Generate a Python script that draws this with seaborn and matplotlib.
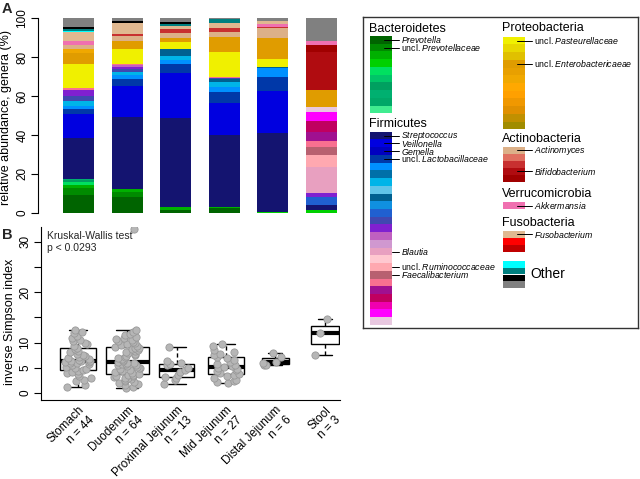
import numpy as np
import pandas as pd
import matplotlib
matplotlib.use('Agg')
import matplotlib.pyplot as plt
import seaborn as sns

sns.set_theme(style='ticks')
plt.rcParams['font.family'] = ['Liberation Sans', 'DejaVu Sans']
plt.rcParams['mathtext.fontset'] = 'custom'
plt.rcParams['mathtext.rm'] = 'Liberation Sans'
plt.rcParams['mathtext.it'] = 'Liberation Sans:italic'

# ---------------- data ----------------
groups = ['Stomach', 'Duodenum', 'Proximal Jejunum', 'Mid Jejunum', 'Distal Jejunum', 'Stool']
n_samples = [44, 64, 13, 27, 6, 3]

bacteroidetes_colors = ['#006400', '#008a00', '#00b000', '#00d000', '#00e060', '#00c468',
                        '#00a060', '#00b070', '#00a868', '#40ec90']
firmicutes_colors = ['#141470', '#0000e0', '#0000c0', '#0038a8', '#0090ff', '#0070a8', '#00b4e8',
                     '#60c4e8', '#006090', '#1090e0', '#2060d0', '#4048b0', '#8020d0', '#c060c0',
                     '#d098d0', '#e8a0c0', '#ffc8d0', '#ffa8b0', '#b86070', '#f87090', '#a01090',
                     '#c00060', '#f000b0', '#ff00ff', '#e8c8e0']
proteobacteria_colors = ['#f0f000', '#e8d800', '#e0c000', '#e09c00', '#e8a000', '#f0a800',
                         '#ffa800', '#ffa000', '#f09800', '#e09000', '#c09000', '#a08c00']
actinobacteria_colors = ['#dcb088', '#e07060', '#c83030', '#b00c10', '#a00000']
verrucomicrobia_colors = ['#f070b0']
fusobacteria_colors = ['#e0b890', '#ff0000', '#c00000']
other_colors = ['#00ffff', '#008080', '#000000', '#808080']

phyla = [('B', bacteroidetes_colors), ('F', firmicutes_colors), ('P', proteobacteria_colors),
         ('A', actinobacteria_colors), ('V', verrucomicrobia_colors), ('U', fusobacteria_colors),
         ('O', other_colors)]

# relative abundances (%) per site, keyed by legend entry (bottom -> top)
stomach = {'B0': 9.0, 'B1': 3.7, 'B2': 1.7, 'B4': 1.2, 'B6': 1.0, 'B7': 0.9,
           'F0': 21.1, 'F1': 12.2, 'F3': 2.5, 'F4': 1.7, 'F6': 2.3, 'F11': 2.9, 'F12': 2.9, 'F19': 1.0,
           'P0': 12.4, 'P3': 5.5, 'P5': 2.2, 'A0': 2.2, 'V0': 2.1, 'U0': 4.3,
           'O0': 0.8, 'O1': 0.8, 'O2': 1.0, 'O3': 4.6}
duodenum = {'B0': 8.1, 'B1': 2.5, 'B2': 1.7,
            'F0': 36.9, 'F1': 16.1, 'F3': 3.5, 'F4': 2.0, 'F6': 1.4, 'F11': 1.7, 'F12': 1.2,
            'F13': 0.7, 'F19': 0.7, 'P0': 7.7, 'P3': 4.3, 'A0': 2.4, 'A2': 1.0, 'U0': 5.5,
            'O1': 0.3, 'O2': 0.7, 'O3': 1.6}
prox_jejunum = {'B0': 1.4, 'B2': 1.3,
                'F0': 46.2, 'F1': 22.8, 'F3': 4.8, 'F4': 2.0, 'F6': 2.1, 'F8': 3.4,
                'P0': 3.6, 'P3': 2.1, 'A0': 2.9, 'A2': 1.7, 'U0': 1.7,
                'O1': 1.1, 'O2': 1.2, 'O3': 1.7}
mid_jejunum = {'B0': 2.3, 'B2': 0.8,
               'F0': 36.9, 'F1': 16.3, 'F3': 5.9, 'F4': 2.6, 'F6': 2.6, 'F8': 1.5, 'F11': 0.6, 'F19': 0.5,
               'P0': 12.5, 'P3': 8.0, 'A0': 2.6, 'A2': 1.8, 'U0': 2.5, 'O1': 2.0, 'O3': 0.6}
distal_jejunum = {'B3': 0.5,
                  'F0': 40.7, 'F1': 21.6, 'F3': 7.2, 'F4': 4.3, 'F8': 0.6,
                  'P0': 4.0, 'P3': 10.8, 'A0': 5.2, 'A2': 0.6, 'V0': 1.5, 'U0': 1.6, 'O3': 1.4}
stool = {'B3': 1.4,
         'F0': 2.6, 'F10': 3.9, 'F12': 2.4, 'F15': 13.4, 'F17': 6.0, 'F18': 4.2, 'F19': 3.1,
         'F20': 4.7, 'F21': 5.6, 'F23': 4.6, 'F24': 2.6,
         'P3': 8.6, 'A3': 19.5, 'A4': 3.7, 'V0': 2.2, 'O3': 11.5}
abundances = [stomach, duodenum, prox_jejunum, mid_jejunum, distal_jejunum, stool]

# inverse Simpson index per sample
isi_stomach = [1.1, 1.5, 2.3, 2.6, 3.0, 3.4, 3.8, 4.0, 4.2, 4.4, 4.5,
               4.7, 5.0, 5.2, 5.5, 5.7, 5.9, 6.0, 6.1, 6.2, 6.3, 6.3,
               6.4, 6.6, 6.8, 7.0, 7.2, 7.4, 7.6, 7.8, 8.1, 8.4, 8.8,
               9.0, 9.3, 9.7, 10.0, 10.3, 10.6, 11.0, 11.3, 12.0, 12.2, 12.5]
isi_duodenum = [0.9, 1.2, 1.5, 1.8, 2.0, 2.2, 2.4, 2.6, 2.8, 2.9, 3.0, 3.1, 3.3, 3.4, 3.5, 3.6,
                3.8, 4.0, 4.2, 4.4, 4.6, 4.8, 4.9, 5.0, 5.2, 5.3, 5.5, 5.6, 5.7, 5.8, 5.9, 6.0,
                6.2, 6.4, 6.6, 6.8, 7.0, 7.2, 7.4, 7.6, 7.8, 8.0, 8.2, 8.4, 8.6, 8.8, 8.9, 9.0,
                9.2, 9.4, 9.6, 9.8, 10.0, 10.2, 10.4, 10.6, 10.8, 11.0, 11.2, 11.5, 11.8, 12.2, 12.5, 32.5]
isi_prox = [1.8, 2.5, 3.0, 3.2, 3.5, 4.2, 4.6, 5.0, 5.5, 5.7, 6.0, 6.3, 9.2]
isi_mid = [1.9, 2.1, 2.3, 2.6, 3.0, 3.4, 3.6, 3.8, 4.0, 4.3, 4.6, 4.8, 5.0, 5.2, 5.3, 5.5, 5.8,
           6.2, 6.6, 7.0, 7.2, 7.5, 7.8, 8.1, 8.6, 9.4, 9.8]
isi_distal = [5.5, 5.6, 6.0, 6.2, 7.2, 8.0]
isi_stool = [7.6, 12.0, 14.6]
isi_values = [isi_stomach, isi_duodenum, isi_prox, isi_mid, isi_distal, isi_stool]

# ---------------- figure ----------------
W, H = 640, 479
fig = plt.figure(figsize=(6.4, 4.79), dpi=100)


def box(l, t, r, b):
    return [l / W, 1 - b / H, (r - l) / W, (b - t) / H]


# ---- Panel A: stacked bars ----
axA = fig.add_axes(box(38, 18.3, 345, 212.7))
xpos = np.arange(len(groups))
bottoms = np.zeros(len(groups))
for prefix, cols in phyla:
    for i, c in enumerate(cols):
        key = f'{prefix}{i}'
        vals = np.array([d.get(key, 0.0) for d in abundances])
        if vals.sum() == 0:
            continue
        axA.bar(xpos, vals, bottom=bottoms, width=0.64, color=c, linewidth=0)
        bottoms += vals
axA.set_xlim(-0.833, 5.484)
axA.set_ylim(0, 100)
axA.set_yticks([0, 20, 40, 60, 80, 100])
axA.set_xticks([])
for s in ['top', 'right', 'bottom']:
    axA.spines[s].set_visible(False)
axA.spines['left'].set_color('black')
axA.spines['left'].set_linewidth(0.8)
axA.tick_params(axis='y', direction='out', length=5, width=0.8, colors='black',
                labelsize=8.5, labelrotation=90, pad=2)
for lab in axA.get_yticklabels():
    lab.set_va('center')
axA.set_ylabel('relative abundance, genera (%)', fontsize=9, color='black')
axA.yaxis.set_label_coords(-0.085, 0.49)

# ---- Panel B: boxplot ----
axB = fig.add_axes(box(41, 227, 340, 400))
df = pd.DataFrame({'site': [g for g, v in zip(groups, isi_values) for _ in v],
                   'isi': [x for v in isi_values for x in v]})
box_widths = [0.72, 0.88, 0.72, 0.72, 0.56, 0.56]
for g, bw in zip(groups, box_widths):
    sns.boxplot(data=df[df['site'] == g], x='site', y='isi', order=groups, ax=axB, width=bw,
                color='white', linecolor='black', linewidth=1.0, showfliers=False,
                boxprops={'facecolor': 'white', 'edgecolor': 'black'},
                whiskerprops={'linestyle': (0, (3, 2)), 'color': 'black'},
                capprops={'color': 'black'},
                medianprops={'linewidth': 3, 'color': 'black'})
np.random.seed(7)
sns.stripplot(data=df, x='site', y='isi', order=groups, ax=axB, jitter=0.27, size=5.2,
              color='#b6b6b6', edgecolor='#999999', linewidth=0.6, zorder=3)
axB.set_xlim(-0.75, 5.31)
axB.set_ylim(-1.39, 32.94)
axB.set_yticks([0, 5, 10, 15, 20, 25, 30])
axB.set_yticklabels(['0', '5', '10', '', '20', '', '30'])
axB.tick_params(axis='y', direction='out', length=5, width=0.8, colors='black',
                labelsize=8.5, labelrotation=90, pad=2)
for lab in axB.get_yticklabels():
    lab.set_va('center')
axB.set_xticks(range(len(groups)))
axB.set_xticklabels([f'{g}\nn = {n}' for g, n in zip(groups, n_samples)],
                    rotation=45, ha='right', va='top', rotation_mode='anchor', fontsize=8.5)
axB.tick_params(axis='x', length=0, pad=3, colors='black')
axB.set_xlabel('')
axB.set_ylabel('inverse Simpson index', fontsize=9, color='black')
axB.yaxis.set_label_coords(-0.082, 0.45)
for s in ['top', 'right']:
    axB.spines[s].set_visible(False)
for s in ['left', 'bottom']:
    axB.spines[s].set_color('black')
    axB.spines[s].set_linewidth(0.8)
fig.text(47 / W, 1 - 231 / H, 'Kruskal-Wallis test\np < 0.0293', fontsize=7.5, va='top', ha='left',
         linespacing=1.25)

fig.text(2 / W, 1 - 2 / H, 'A', fontsize=10.5, fontweight='bold', va='top', ha='left')
fig.text(2 / W, 1 - 228 / H, 'B', fontsize=10.5, fontweight='bold', va='top', ha='left')

# ---- Legend panel ----
L, T, R, Bm = 363, 17.3, 637.7, 328.3
axL = fig.add_axes(box(L, T, R, Bm))
axL.set_xlim(L, R)
axL.set_ylim(Bm, T)
axL.set_xticks([])
axL.set_yticks([])
axL.set_facecolor('white')
for s in axL.spines.values():
    s.set_color('#333333')
    s.set_linewidth(1.0)


def blocks(x0, y0, bh, colors, w=21.7):
    axL.bar([x0] * len(colors), [bh] * len(colors),
            bottom=[y0 + i * bh for i in range(len(colors))],
            width=w, align='edge', color=colors, linewidth=0)
    return [y0 + (i + 0.5) * bh for i in range(len(colors))]


hdr = dict(fontsize=9, va='center', ha='left', color='black')
lab = dict(fontsize=6.3, va='center', ha='left', color='black')

axL.text(369, 28.5, 'Bacteroidetes', **hdr)
yb = blocks(370, 36.0, 7.73, bacteroidetes_colors)
axL.text(369, 123.7, 'Firmicutes', **hdr)
yf = blocks(370, 131.7, 7.73, firmicutes_colors)
axL.text(502, 28.3, 'Proteobacteria', **hdr)
yp = blocks(503.3, 36.7, 7.72, proteobacteria_colors)
axL.text(502, 139.3, 'Actinobacteria', **hdr)
ya = blocks(503.3, 146.7, 7.0, actinobacteria_colors)
axL.text(502, 194, 'Verrucomicrobia', **hdr)
yv = blocks(503.3, 202.0, 7.3, verrucomicrobia_colors)
axL.text(502, 222.7, 'Fusobacteria', **hdr)
yu = blocks(503.3, 230.7, 7.0, fusobacteria_colors)
yo = blocks(503.3, 260.7, 6.9, other_colors)
axL.text(530, 274.5, 'Other', fontsize=10, va='center', ha='left', color='black')

left_labels = [(yb[0], r'$\mathit{Prevotella}$', 384),
               (yb[1], r'uncl. $\mathit{Prevotellaceae}$', 384),
               (yf[0], r'$\mathit{Streptococcus}$', 384),
               (yf[1], r'$\mathit{Veillonella}$', 384),
               (yf[2], r'$\mathit{Gemella}$', 384),
               (yf[3], r'uncl. $\mathit{Lactobacillaceae}$', 384),
               (yf[15], r'$\mathit{Blautia}$', 391.5),
               (yf[17], r'uncl. $\mathit{Ruminococcaceae}$', 391.5),
               (yf[18], r'$\mathit{Faecalibacterium}$', 391.5)]
for y, t, x1 in left_labels:
    axL.plot([x1, 399], [y, y], color='black', lw=0.7)
    axL.text(400.5, y, t, **lab)

right_labels = [(yp[0], r'uncl. $\mathit{Pasteurellaceae}$'),
                (yp[3], r'uncl. $\mathit{Enterobactericaeae}$'),
                (ya[0], r'$\mathit{Actinomyces}$'),
                (ya[3], r'$\mathit{Bifidobacterium}$'),
                (yv[0], r'$\mathit{Akkermansia}$'),
                (yu[0], r'$\mathit{Fusobacterium}$')]
for y, t in right_labels:
    axL.plot([517, 532], [y, y], color='black', lw=0.7)
    axL.text(533.5, y, t, **lab)

fig.savefig('out.png', dpi=100)
